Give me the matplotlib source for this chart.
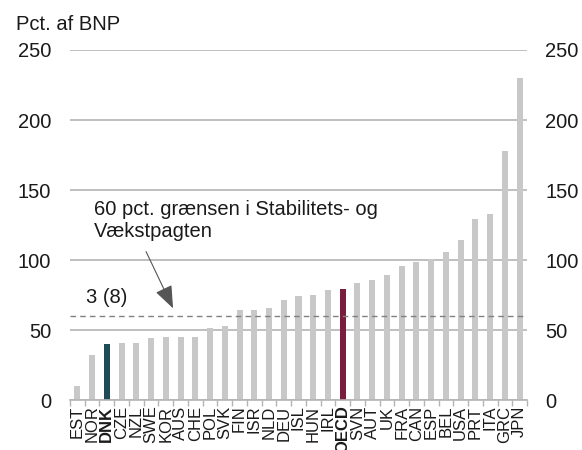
import matplotlib
matplotlib.use("Agg")
import matplotlib.pyplot as plt

plt.rcParams['font.family'] = ['Liberation Sans', 'DejaVu Sans']
plt.rcParams['text.color'] = '#1a1a1a'

countries = ["EST", "NOR", "DNK", "CZE", "NZL", "SWE", "KOR", "AUS", "CHE", "POL", "SVK",
             "FIN", "ISR", "NLD", "DEU", "ISL", "HUN", "IRL", "OECD", "SVN", "AUT", "UK",
             "FRA", "CAN", "ESP", "BEL", "USA", "PRT", "ITA", "GRC", "JPN"]
values = [10, 32, 40, 40.5, 41, 44, 45, 45, 45, 51.5, 53,
          64, 64, 65.5, 71.5, 74, 75, 78.5, 79.3, 83.3, 85.7, 89,
          96, 98.6, 100.5, 105.7, 114, 129, 132.6, 178, 230]
highlight = {"DNK": "#1e4b55", "OECD": "#7a1c3d"}
yticks = [0, 50, 100, 150, 200, 250]
limit_value = 60

FS = 14.5
fig = plt.figure(figsize=(5.82, 4.5), dpi=100)
ax = fig.add_axes([70 / 582, 50 / 450, 457 / 582, 350 / 450])

x = list(range(len(countries)))
colors = [highlight.get(c, "#c8c8c8") for c in countries]
for yv in yticks:
    ax.axhline(yv, color="#b4b4b4", lw=1.2, zorder=0)
ax.bar(x, values, width=0.41, color=colors, zorder=2)
ax.axhline(limit_value, color="#808080", lw=1.0, ls=(0, (4, 3)), zorder=3)

ax.set_xlim(-0.5, len(countries) - 0.5)
ax.set_ylim(0, 250)
ax.set_yticks(yticks)
ax.tick_params(axis='y', length=0, labelsize=FS, pad=13.5, labelcolor='#1a1a1a')
ax.set_xticks(x)
ax.set_xticklabels(countries, rotation=90, fontsize=12, color='#1a1a1a')
for lab in ax.get_xticklabels():
    if lab.get_text() in highlight:
        lab.set_fontweight("bold")
ax.tick_params(axis='x', which='major', length=0, pad=4)
ax.set_xticks([i + 0.5 for i in range(-1, len(countries))], minor=True)
ax.tick_params(axis='x', which='minor', length=4, color="#b4b4b4", width=1)

for s in ax.spines.values():
    s.set_visible(False)
ax.spines['bottom'].set_visible(True)
ax.spines['bottom'].set_color("#b4b4b4")
ax.spines['bottom'].set_linewidth(1.2)

# right-side labels
ax2 = ax.twinx()
ax2.set_ylim(0, 250)
ax2.set_yticks(yticks)
ax2.tick_params(axis='y', length=0, labelsize=FS, pad=13, labelcolor='#1a1a1a')
for s in ax2.spines.values():
    s.set_visible(False)

fig.text(16 / 582, 1 - 24.5 / 450, "Pct. af BNP", fontsize=FS, va="center", ha="left")

ax.annotate("", xy=(6.49, 65.5), xytext=(4.66, 106),
            arrowprops=dict(arrowstyle="-|>,head_length=1.4,head_width=0.55",
                            color="#555555", lw=0.8, mutation_scale=10,
                            shrinkA=0, shrinkB=0))
ax.text(1.1, 128, "60 pct. grænsen i Stabilitets- og\nVækstpagten", fontsize=FS,
        va="center", ha="left", linespacing=1.18)
ax.text(0.6, 73, "3 (8)", fontsize=FS, va="center", ha="left")

fig.savefig("out.png", dpi=100)
